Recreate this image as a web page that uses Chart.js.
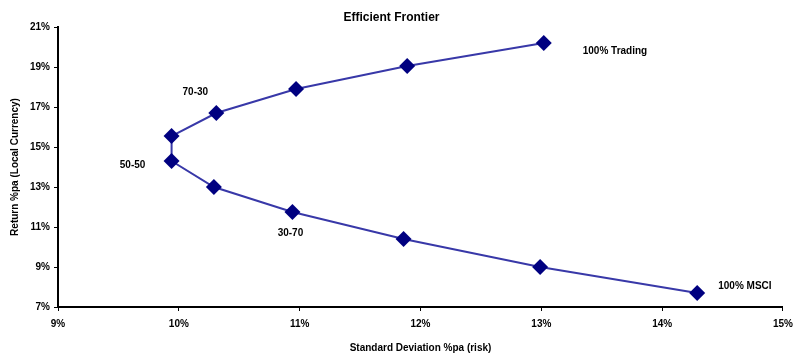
<!DOCTYPE html>
<html>
<head>
<meta charset="utf-8">
<script src="https://cdn.jsdelivr.net/npm/chart.js@4/dist/chart.umd.min.js"></script>
<style>
  html, body { margin: 0; padding: 0; background: #fff; }
  #wrap { width: 800px; height: 361px; }
</style>
</head>
<body>
<div id="wrap"><canvas id="c" width="800" height="361"></canvas></div>
<script>
// Data
const riskPct   = [13.02, 11.89, 10.97, 10.31, 9.94, 9.94, 10.29, 10.94, 11.86, 12.99, 14.29];
const returnPct = [20.2, 19.05, 17.9, 16.7, 15.55, 14.3, 13.0, 11.75, 10.4, 9.0, 7.7];
const pointLabels = ['100% Trading', '', '', '70-30', '', '50-50', '', '30-70', '', '', '100% MSCI'];
const xTicks = [9, 10, 11, 12, 13, 14, 15];
const yTicks = [7, 9, 11, 13, 15, 17, 19, 21];
const chartTitle = 'Efficient Frontier';
const xTitle = 'Standard Deviation %pa (risk)';
const yTitle = 'Return %pa (Local Currency)';

// Styling for the point labels (offsets in pixels from the marker)
const labelStyle = {
  0: { dx: 39, dy: 8, align: 'left' },
  3: { dx: -21, dy: -21, align: 'center' },
  5: { dx: -39, dy: 4, align: 'center' },
  7: { dx: -2, dy: 21, align: 'center' },
  10: { dx: 21, dy: -7, align: 'left' }
};

const FONT = "'Liberation Sans', Arial, sans-serif";

const pointLabelPlugin = {
  id: 'pointLabels',
  afterDatasetsDraw(chart) {
    const meta = chart.getDatasetMeta(0);
    const ctx = chart.ctx;
    ctx.save();
    ctx.font = "bold 10px " + FONT;
    ctx.fillStyle = '#000';
    ctx.textBaseline = 'middle';
    pointLabels.forEach((txt, i) => {
      if (!txt) return;
      const el = meta.data[i];
      const st = labelStyle[i] || { dx: 0, dy: -12, align: 'center' };
      ctx.textAlign = st.align;
      ctx.fillText(txt, el.x + st.dx, el.y + st.dy);
    });
    ctx.restore();
  }
};

new Chart(document.getElementById('c'), {
  type: 'scatter',
  data: {
    datasets: [{
      data: riskPct.map((x, i) => ({ x: x, y: returnPct[i] })),
      showLine: true,
      borderColor: '#3838a8',
      borderWidth: 2,
      pointStyle: 'rectRot',
      pointRadius: 8,
      pointHoverRadius: 8,
      pointBackgroundColor: '#000080',
      pointBorderColor: '#000080',
      pointBorderWidth: 0,
      tension: 0
    }]
  },
  options: {
    responsive: false,
    animation: false,
    events: [],
    layout: { padding: { left: 0, right: 17, top: 0, bottom: 0 } },
    plugins: {
      legend: { display: false },
      tooltip: { enabled: false },
      title: {
        display: true,
        text: chartTitle,
        color: '#000',
        font: { family: FONT, size: 12, weight: 'bold', lineHeight: 1.0 },
        padding: { top: 12, bottom: 3 }
      }
    },
    scales: {
      x: {
        type: 'linear',
        min: 9, max: 15,
        afterBuildTicks: s => { s.ticks = xTicks.map(v => ({ value: v })); },
        afterFit: s => { s.height = 54; },
        ticks: {
          color: '#000',
          font: { family: FONT, size: 10, weight: 'bold' },
          padding: 7,
          maxRotation: 0,
          callback: v => v + '%'
        },
        grid: { drawOnChartArea: false, drawTicks: true, tickLength: 4, tickColor: '#000', tickWidth: 1 },
        border: { display: true, color: '#000', width: 2 },
        title: {
          display: true, text: xTitle, color: '#000',
          font: { family: FONT, size: 10, weight: 'bold', lineHeight: 1.2 },
          padding: { top: 0, bottom: 7 }
        }
      },
      y: {
        type: 'linear',
        min: 7, max: 21,
        afterBuildTicks: s => { s.ticks = yTicks.map(v => ({ value: v })); },
        afterFit: s => { s.width = 58; },
        ticks: {
          color: '#000',
          font: { family: FONT, size: 10, weight: 'bold' },
          padding: 4,
          callback: v => v + '%'
        },
        grid: { drawOnChartArea: false, drawTicks: true, tickLength: 4, tickColor: '#000', tickWidth: 1 },
        border: { display: true, color: '#000', width: 2 },
        title: {
          display: true, text: yTitle, color: '#000',
          font: { family: FONT, size: 10, weight: 'bold', lineHeight: 1.2 },
          padding: { top: 9, bottom: 0 }
        }
      }
    }
  },
  plugins: [pointLabelPlugin]
});
</script>
</body>
</html>
